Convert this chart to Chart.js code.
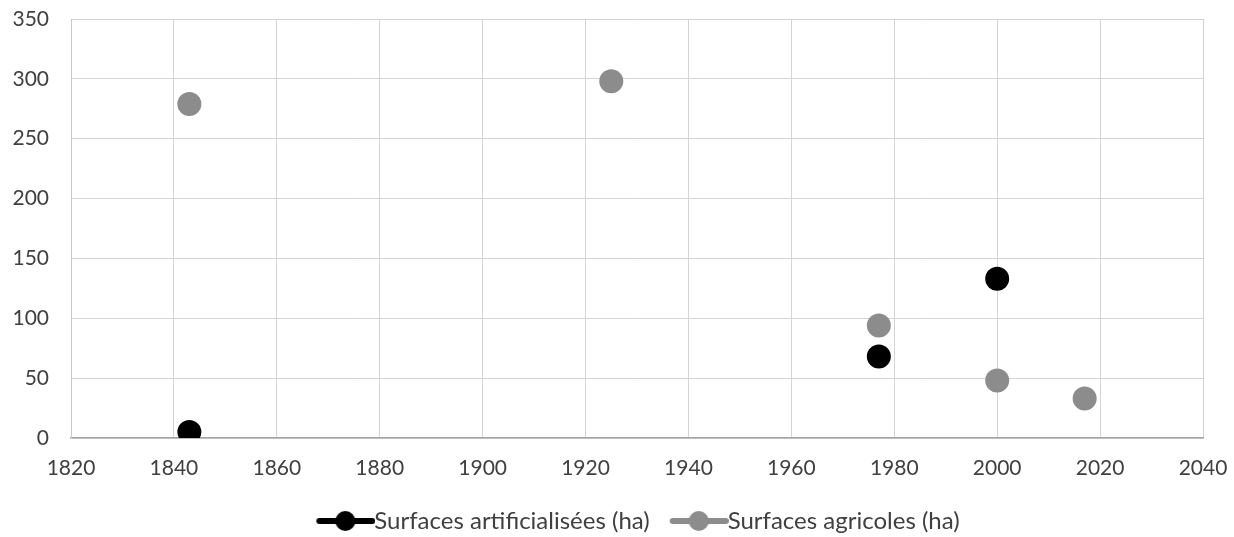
<!DOCTYPE html>
<html>
<head>
<meta charset="utf-8">
<script src="https://cdn.jsdelivr.net/npm/chart.js@4/dist/chart.umd.min.js"></script>
<style>
  html, body { margin: 0; padding: 0; background: #fff; }
  #wrap { width: 1234px; height: 537px; }
</style>
</head>
<body>
<div id="wrap"><canvas id="chart" width="1234" height="537"></canvas></div>
<script>
// values
const artifYears = [1843, 1977, 2000];
const artifValues = [5, 68, 133];
const agriYears = [1843, 1925, 1977, 2000, 2017];
const agriValues = [279, 298, 94, 48, 33];
const seriesNames = ["Surfaces artificialisées (ha)", "Surfaces agricoles (ha)"];
const xTicks = [1820, 1840, 1860, 1880, 1900, 1920, 1940, 1960, 1980, 2000, 2020, 2040];
const yTicks = [0, 50, 100, 150, 200, 250, 300, 350];

const BLACK = "#000000";
const GREY = "#8c8c8c";
const TEXT = "#404040";

const toPoints = (xs, ys) => xs.map((x, i) => ({ x, y: ys[i] }));

// line + dot marker for the legend
const legendMarker = (color) => {
  const c = document.createElement("canvas");
  c.width = 74;
  c.height = 22;
  const ctx = c.getContext("2d");
  ctx.strokeStyle = color;
  ctx.lineWidth = 6;
  ctx.lineCap = "round";
  ctx.beginPath();
  ctx.moveTo(18, 11);
  ctx.lineTo(71, 11);
  ctx.stroke();
  ctx.fillStyle = color;
  ctx.beginPath();
  ctx.arc(44, 11, 10, 0, Math.PI * 2);
  ctx.fill();
  return c;
};

const markers = [legendMarker(BLACK), legendMarker(GREY)];

new Chart(document.getElementById("chart"), {
  type: "scatter",
  data: {
    datasets: [
      {
        label: seriesNames[0],
        data: toPoints(artifYears, artifValues),
        backgroundColor: BLACK,
        borderColor: BLACK,
        pointRadius: 12,
        borderWidth: 0,
      },
      {
        label: seriesNames[1],
        data: toPoints(agriYears, agriValues),
        backgroundColor: GREY,
        borderColor: GREY,
        pointRadius: 12,
        borderWidth: 0,
      },
    ],
  },
  options: {
    responsive: false,
    animation: false,
    events: [],
    layout: { padding: { left: 0, right: 31, top: 19, bottom: -6 } },
    scales: {
      x: {
        type: "linear",
        min: xTicks[0],
        max: xTicks[xTicks.length - 1],
        afterBuildTicks: (scale) => { scale.ticks = xTicks.map((v) => ({ value: v })); },
        afterFit: (scale) => {
          scale.height = 53;
          scale.paddingLeft = 0;
          scale.paddingRight = 0;
        },
        grid: { color: "#d4d4d4", lineWidth: 1, drawTicks: false },
        border: { color: "#a6a6a6", width: 1.5 },
        ticks: {
          color: TEXT,
          font: { family: "Lato", size: 21 },
          padding: 18,
          maxRotation: 0,
          callback: (v) => String(v),
        },
      },
      y: {
        min: yTicks[0],
        max: yTicks[yTicks.length - 1],
        afterBuildTicks: (scale) => { scale.ticks = yTicks.map((v) => ({ value: v })); },
        afterFit: (scale) => {
          scale.width = 71;
          scale.paddingTop = 0;
          scale.paddingBottom = 0;
        },
        grid: { color: "#d4d4d4", lineWidth: 1, drawTicks: false },
        border: { color: "#c8c8c8", width: 1 },
        ticks: {
          color: TEXT,
          font: { family: "Lato", size: 21 },
          padding: 22,
          callback: (v) => String(v),
        },
      },
    },
    plugins: {
      tooltip: { enabled: false },
      legend: {
        position: "bottom",
        fullSize: false,
        labels: {
          usePointStyle: true,
          pointStyleWidth: 48,
          boxHeight: 22,
          padding: 18,
          color: TEXT,
          font: { family: "Lato", size: 24 },
          generateLabels: (chart) =>
            chart.data.datasets.map((ds, i) => ({
              text: ds.label,
              pointStyle: markers[i],
              fillStyle: ds.backgroundColor,
              strokeStyle: ds.backgroundColor,
              lineWidth: 0,
              hidden: false,
              datasetIndex: i,
              fontColor: TEXT,
            })),
        },
      },
    },
  },
});
</script>
</body>
</html>
